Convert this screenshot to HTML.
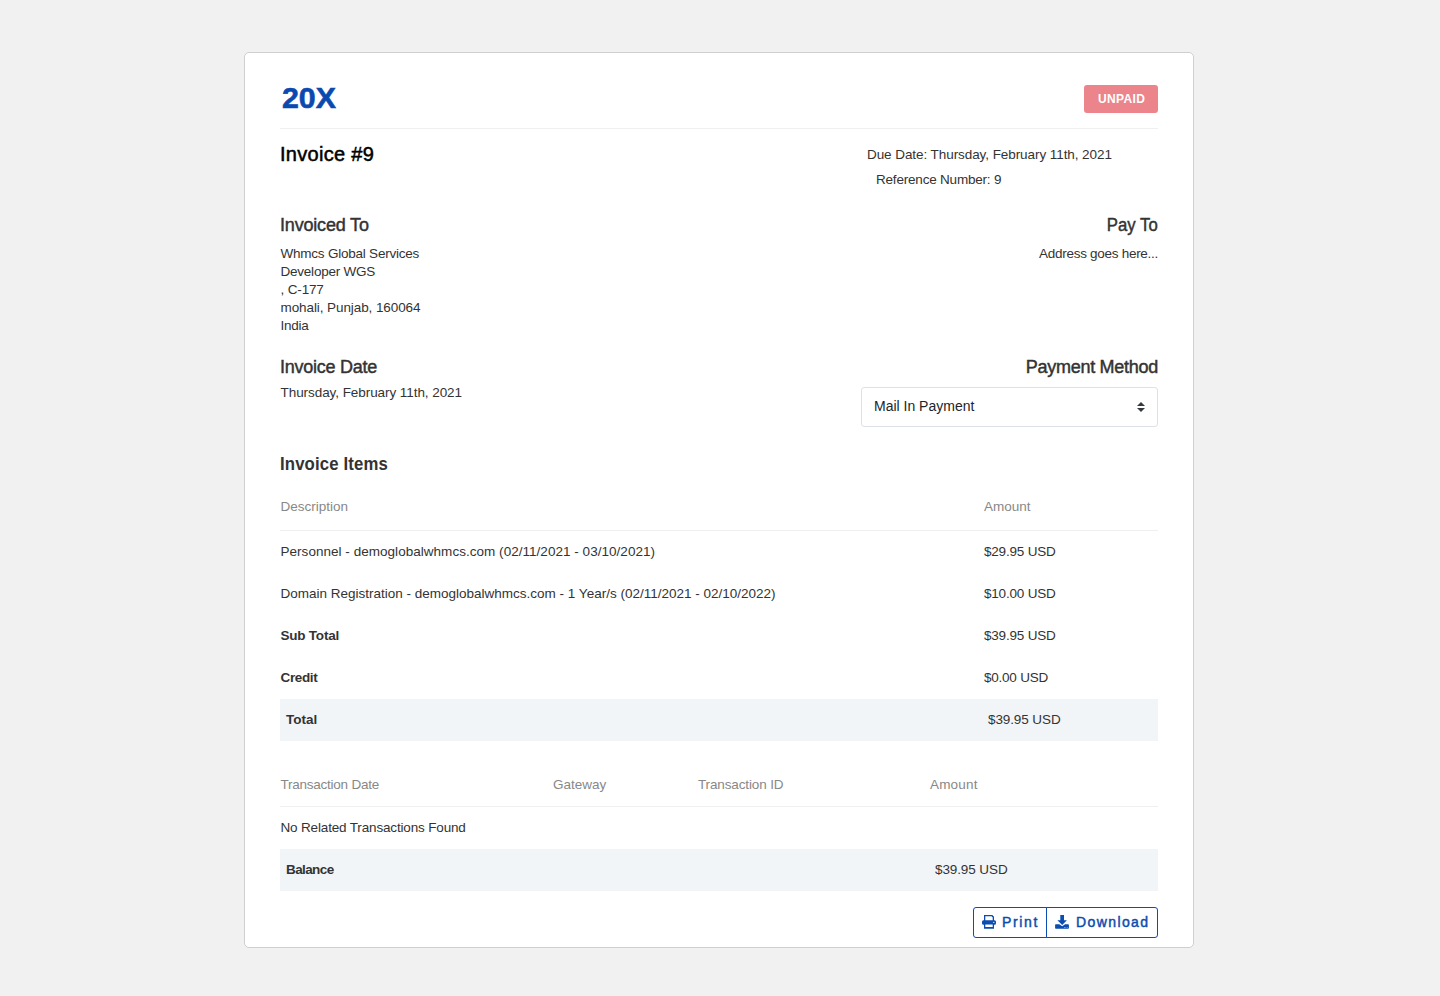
<!DOCTYPE html>
<html><head><meta charset="utf-8"><title>Invoice #9</title>
<style>
html,body{margin:0;padding:0;}
body{width:1440px;height:996px;background:#f1f1f1;position:relative;overflow:hidden;font-family:"Liberation Sans",sans-serif;}
.t{position:absolute;white-space:nowrap;}
.card{position:absolute;left:244px;top:52px;width:950px;height:896px;box-sizing:border-box;background:#fff;border:1px solid #cfcfcf;border-radius:5px;}
.badge{position:absolute;left:1084px;top:85px;width:74px;height:28px;background:#ec848b;border-radius:3px;}
.hr{position:absolute;left:280px;width:878px;height:1px;background:#efefef;}
.sel{position:absolute;left:861px;top:387px;width:297px;height:40px;box-sizing:border-box;border:1px solid #dee2e6;border-radius:3px;background:#fff;}
.band{position:absolute;left:280px;width:878px;height:42px;background:#f2f5f8;}
.btn{position:absolute;top:907px;height:31px;box-sizing:border-box;border:1px solid #0b4db0;border-radius:3px;}
</style></head><body>
<div class="card"></div>
<div class="badge"></div>
<div class="hr" style="top:128px"></div>
<div class="sel"></div>
<svg width="8" height="10" viewBox="0 0 8 10" style="position:absolute;left:1137.3px;top:402px"><path d="M4 0 L8 4 L0 4 Z M0 6 L8 6 L4 10 Z" fill="#343a40"/></svg>
<div class="hr" style="top:530px"></div>
<div class="band" style="top:699px"></div>
<div class="hr" style="top:806px"></div>
<div class="band" style="top:849px"></div>
<div class="btn" style="left:973px;width:74px;border-radius:3px 0 0 3px"></div>
<div class="btn" style="left:1046px;width:112px;border-radius:0 3px 3px 0"></div>
<svg width="14" height="14" viewBox="0 0 14 14" style="position:absolute;left:982px;top:915px">
<path fill="#0b4db0" fill-rule="evenodd" d="M2 0 H10.3 L12 1.7 V5.3 H12.5 A1.5 1.5 0 0 1 14 6.8 V8.2 A1.5 1.5 0 0 1 12.5 9.7 H12 V13.7 H2 V9.7 H1.5 A1.5 1.5 0 0 1 0 8.2 V6.8 A1.5 1.5 0 0 1 1.5 5.3 H2 Z M3.3 1.3 V5.3 H10.7 V2.5 L9.5 1.3 Z M3.3 9.4 V12.1 H10.7 V9.4 Z"/>
<circle cx="11.8" cy="7.4" r="0.6" fill="#fff"/>
</svg>
<svg width="14" height="14" viewBox="0 0 14 14" style="position:absolute;left:1055px;top:915px">
<path fill="#0b4db0" d="M5.3 0 H9 V5.3 H11.9 L7.2 10 L2.4 5.3 H5.3 Z"/>
<path fill="#0b4db0" d="M0.9 9.2 H4.3 L7.2 11.2 L10.1 9.2 H13.1 Q13.9 9.2 13.9 10 V12.9 Q13.9 13.7 13.1 13.7 H0.9 Q0.1 13.7 0.1 12.9 V10 Q0.1 9.2 0.9 9.2 Z"/>
<rect x="9" y="12" width="0.8" height="0.8" fill="#9fb8df"/><rect x="10.4" y="12" width="0.8" height="0.8" fill="#9fb8df"/><rect x="11.8" y="12" width="0.8" height="0.8" fill="#9fb8df"/>
</svg>
<div class="t" id="logo" style="left:282.00px;top:78.00px;font-size:30.3px;line-height:39px;font-weight:700;color:#0a4ab0;letter-spacing:0.000px;-webkit-text-stroke:0.6px #0a4ab0;">20X</div>
<div class="t" id="badge" style="left:1098.00px;top:91.00px;font-size:12px;line-height:16px;font-weight:700;color:#ffffff;letter-spacing:0.360px;">UNPAID</div>
<div class="t" id="inv9" style="left:280.00px;top:141.01px;font-size:20px;line-height:26px;font-weight:400;color:#000000;letter-spacing:0.300px;-webkit-text-stroke:0.5px #000;">Invoice #9</div>
<div class="t" id="due" style="left:867.00px;top:146.01px;font-size:13.5px;line-height:18px;font-weight:400;color:#333333;letter-spacing:-0.071px;">Due Date: Thursday, February 11th, 2021</div>
<div class="t" id="ref" style="left:876.00px;top:171.01px;font-size:13.5px;line-height:18px;font-weight:400;color:#333333;letter-spacing:-0.200px;">Reference Number: 9</div>
<div class="t" id="invto" style="left:280.00px;top:214.01px;font-size:18px;line-height:23px;font-weight:400;color:#333333;letter-spacing:-0.180px;-webkit-text-stroke:0.45px #333;">Invoiced To</div>
<div class="t" id="a1" style="left:280.50px;top:245.01px;font-size:13.5px;line-height:18px;font-weight:400;color:#333333;letter-spacing:-0.225px;">Whmcs Global Services</div>
<div class="t" id="a2" style="left:280.50px;top:263.01px;font-size:13.5px;line-height:18px;font-weight:400;color:#333333;letter-spacing:-0.225px;">Developer WGS</div>
<div class="t" id="a3" style="left:280.50px;top:281.01px;font-size:13.5px;line-height:18px;font-weight:400;color:#333333;letter-spacing:-0.150px;">, C-177</div>
<div class="t" id="a4" style="left:280.50px;top:299.01px;font-size:13.5px;line-height:18px;font-weight:400;color:#333333;letter-spacing:-0.086px;">mohali, Punjab, 160064</div>
<div class="t" id="a5" style="left:280.50px;top:317.01px;font-size:13.5px;line-height:18px;font-weight:400;color:#333333;letter-spacing:-0.225px;">India</div>
<div class="t" id="payto" style="right:282.00px;top:214.01px;font-size:18px;line-height:23px;font-weight:400;color:#333333;letter-spacing:0.000px;-webkit-text-stroke:0.45px #333;transform:scaleX(0.93);transform-origin:right center;">Pay To</div>
<div class="t" id="addr" style="right:282.00px;top:245.01px;font-size:13.5px;line-height:18px;font-weight:400;color:#333333;letter-spacing:-0.284px;">Address goes here...</div>
<div class="t" id="invdate" style="left:280.00px;top:356.01px;font-size:18px;line-height:23px;font-weight:400;color:#333333;letter-spacing:-0.245px;-webkit-text-stroke:0.45px #333;">Invoice Date</div>
<div class="t" id="thu" style="left:280.50px;top:384.01px;font-size:13.5px;line-height:18px;font-weight:400;color:#333333;letter-spacing:-0.064px;">Thursday, February 11th, 2021</div>
<div class="t" id="paym" style="right:282.00px;top:356.01px;font-size:18px;line-height:23px;font-weight:400;color:#333333;letter-spacing:-0.277px;-webkit-text-stroke:0.45px #333;">Payment Method</div>
<div class="t" id="mail" style="left:874.00px;top:397.01px;font-size:14px;line-height:18px;font-weight:400;color:#212529;letter-spacing:0.000px;">Mail In Payment</div>
<div class="t" id="items" style="left:280.00px;top:453.01px;font-size:18px;line-height:23px;font-weight:700;color:#333333;letter-spacing:0.150px;transform:scaleX(0.93);transform-origin:left center;">Invoice Items</div>
<div class="t" id="desc" style="left:280.50px;top:498.01px;font-size:13.5px;line-height:18px;font-weight:400;color:#888888;letter-spacing:0.000px;">Description</div>
<div class="t" id="amt1" style="left:984.00px;top:498.01px;font-size:13.5px;line-height:18px;font-weight:400;color:#888888;letter-spacing:0.000px;">Amount</div>
<div class="t" id="r1" style="left:280.50px;top:543.01px;font-size:13.5px;line-height:18px;font-weight:400;color:#333333;letter-spacing:0.032px;">Personnel - demoglobalwhmcs.com (02/11/2021 - 03/10/2021)</div>
<div class="t" id="r1a" style="left:984.00px;top:543.01px;font-size:13.5px;line-height:18px;font-weight:400;color:#333333;letter-spacing:-0.200px;">$29.95 USD</div>
<div class="t" id="r2" style="left:280.50px;top:585.01px;font-size:13.5px;line-height:18px;font-weight:400;color:#333333;letter-spacing:0.000px;">Domain Registration - demoglobalwhmcs.com - 1 Year/s (02/11/2021 - 02/10/2022)</div>
<div class="t" id="r2a" style="left:984.00px;top:585.01px;font-size:13.5px;line-height:18px;font-weight:400;color:#333333;letter-spacing:-0.200px;">$10.00 USD</div>
<div class="t" id="sub" style="left:280.50px;top:627.01px;font-size:13.5px;line-height:18px;font-weight:700;color:#333333;letter-spacing:-0.225px;">Sub Total</div>
<div class="t" id="suba" style="left:984.00px;top:627.01px;font-size:13.5px;line-height:18px;font-weight:400;color:#333333;letter-spacing:-0.200px;">$39.95 USD</div>
<div class="t" id="cred" style="left:280.50px;top:669.01px;font-size:13.5px;line-height:18px;font-weight:700;color:#333333;letter-spacing:-0.360px;">Credit</div>
<div class="t" id="creda" style="left:984.00px;top:669.01px;font-size:13.5px;line-height:18px;font-weight:400;color:#333333;letter-spacing:-0.225px;">$0.00 USD</div>
<div class="t" id="tot" style="left:286.00px;top:711.01px;font-size:13.5px;line-height:18px;font-weight:700;color:#333333;letter-spacing:0.000px;">Total</div>
<div class="t" id="tota" style="left:988.00px;top:711.01px;font-size:13.5px;line-height:18px;font-weight:400;color:#333333;letter-spacing:-0.100px;">$39.95 USD</div>
<div class="t" id="txd" style="left:280.50px;top:776.01px;font-size:13.5px;line-height:18px;font-weight:400;color:#888888;letter-spacing:-0.240px;">Transaction Date</div>
<div class="t" id="gw" style="left:553.00px;top:776.01px;font-size:13.5px;line-height:18px;font-weight:400;color:#888888;letter-spacing:0.000px;">Gateway</div>
<div class="t" id="txid" style="left:698.00px;top:776.01px;font-size:13.5px;line-height:18px;font-weight:400;color:#888888;letter-spacing:-0.138px;">Transaction ID</div>
<div class="t" id="amt2" style="left:930.00px;top:776.01px;font-size:13.5px;line-height:18px;font-weight:400;color:#888888;letter-spacing:0.180px;">Amount</div>
<div class="t" id="norel" style="left:280.50px;top:819.01px;font-size:13.5px;line-height:18px;font-weight:400;color:#333333;letter-spacing:-0.161px;">No Related Transactions Found</div>
<div class="t" id="bal" style="left:286.00px;top:861.01px;font-size:13.5px;line-height:18px;font-weight:700;color:#333333;letter-spacing:-0.600px;">Balance</div>
<div class="t" id="bala" style="left:935.00px;top:861.01px;font-size:13.5px;line-height:18px;font-weight:400;color:#333333;letter-spacing:-0.100px;">$39.95 USD</div>
<div class="t" id="print" style="left:1002.00px;top:913.01px;font-size:14px;line-height:18px;font-weight:400;color:#0b4db0;letter-spacing:1.625px;-webkit-text-stroke:0.45px #0b4db0;">Print</div>
<div class="t" id="dl" style="left:1076.00px;top:913.01px;font-size:14px;line-height:18px;font-weight:400;color:#0b4db0;letter-spacing:1.400px;-webkit-text-stroke:0.45px #0b4db0;">Download</div>
</body></html>
